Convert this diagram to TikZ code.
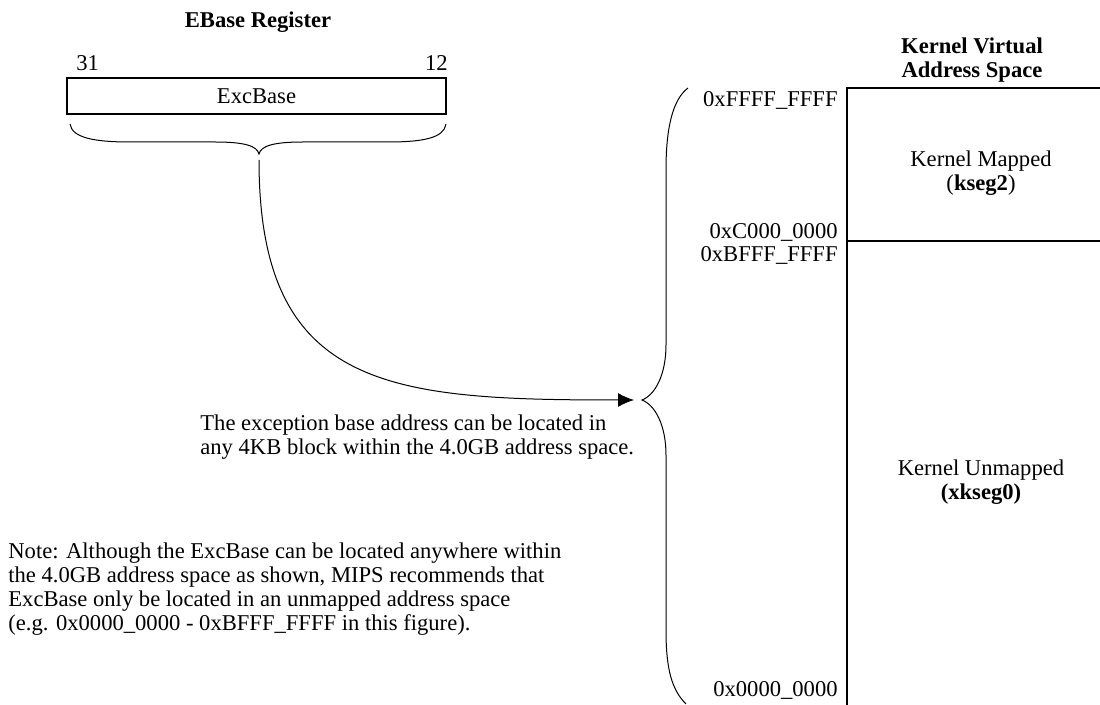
\documentclass[tikz,border=0pt]{standalone}
\usepackage{fontspec}
\setmainfont{Liberation Serif}
\usetikzlibrary{arrows.meta}

\begin{document}
\begin{tikzpicture}[
  x=0.5pt, y=-0.5pt,
  txt/.style={inner sep=0pt, font=\fontsize{11.3}{12}\selectfont},
  title/.style={txt, font=\fontsize{11.3}{12}\selectfont\bfseries, align=center},
  regbox/.style={draw, line width=0.8pt, inner sep=0pt, minimum width=189.5pt,
                 minimum height=18pt, font=\fontsize{11.3}{12}\selectfont},
  addr/.style={txt, anchor=base east},
  note/.style={txt, align=left, anchor=north west},
  seg/.style={txt, align=center},
  brace/.style={draw, line width=0.5pt},
  arrow/.style={-{Latex[length=8pt,width=7pt]}, line width=0.5pt}
]
\useasboundingbox (0,0) rectangle (1100,705);

% EBase register
\node[title, anchor=base] (regtitle) at (258,28) {EBase Register};
\node[regbox] (excbase) at (256.5,96) {ExcBase};
\node[txt, anchor=base west] (msb) at (76,71) {31};
\node[txt, anchor=base east] (lsb) at (448,71) {12};

\coordinate (regtip) at (259,154);
\draw[brace] (70,124) .. controls (72,138) and (95,142) .. (130,142) -- (215,142)
  .. controls (245,142) and (257,146) .. (regtip)
  .. controls (261,146) and (273,142) .. (303,142) -- (388,142)
  .. controls (423,142) and (444,138) .. (446,124);

% brace over the whole address range
\coordinate (spacetip) at (642,400);
\draw[brace] (688,88) .. controls (672,100) and (666,130) .. (666,170) -- (666,345)
  .. controls (666,375) and (655,395) .. (spacetip)
  .. controls (655,405) and (666,425) .. (666,455) -- (666,630)
  .. controls (666,670) and (672,690) .. (686,704);

\draw[arrow, shorten >=8pt*0.5] ([yshift=-6*0.5pt]regtip) .. controls (259,390) and (390,400) .. (spacetip);

% kernel address space
\node[title, anchor=north] (kvtitle) at (972,37) {Kernel Virtual\\Address Space};
\draw[line width=0.8pt] (1100,88) -- (847,88) -- (847,705);
\draw[line width=0.8pt] (847,241) -- (1100,241);
\node[seg] (kseg2) at (981,173) {Kernel Mapped\\(\textbf{kseg2})};
\node[seg] (kseg0) at (981,482) {Kernel Unmapped\\\textbf{(xkseg0)}};

\node[addr] (top) at (838,107) {0xFFFF\_FFFF};
\node[addr] (c000) at (838,239) {0xC000\_0000};
\node[addr] (bfff) at (838,262) {0xBFFF\_FFFF};
\node[addr] (bottom) at (838,697) {0x0000\_0000};

% texts
\node[note] (hint) at (200,414) {The exception base address can be located in\\
  any 4KB block within the 4.0GB address space.};
\node[note] (caveat) at (8,542) {Note: Although the ExcBase can be located anywhere within\\
  the 4.0GB address space as shown, MIPS recommends that\\
  ExcBase only be located in an unmapped address space\\
  (e.g. 0x0000\_0000 - 0xBFFF\_FFFF in this figure).};
\end{tikzpicture}
\end{document}
